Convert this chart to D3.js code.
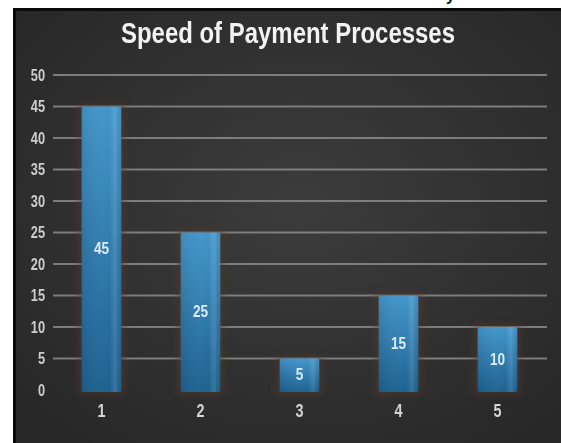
<!DOCTYPE html>
<html>
<head>
<meta charset="utf-8">
<script src="https://cdn.jsdelivr.net/npm/d3@7"></script>
<style>
  html, body { margin: 0; padding: 0; background: #ffffff; }
  svg { display: block; }
</style>
</head>
<body>
<svg id="chart" width="561" height="443"></svg>
<script>
// Chart data
const categories = ["1", "2", "3", "4", "5"];
const values = [45, 25, 5, 15, 10];
const yTicks = [0, 5, 10, 15, 20, 25, 30, 35, 40, 45, 50];
const title = "Speed of Payment Processes";

const W = 561, H = 443;
// Bold sans squeezed horizontally to give a narrow face
const FONT = "'Liberation Sans', Arial, sans-serif";
const NARROW = "scale(0.8,1)";
const svg = d3.select("#chart");
const defs = svg.append("defs");

// Panel background: dark charcoal with a soft lighter centre
const bg = defs.append("radialGradient").attr("id", "panelGrad")
  .attr("cx", "52%").attr("cy", "45%").attr("r", "70%");
bg.append("stop").attr("offset", "0%").attr("stop-color", "#3c3c3c");
bg.append("stop").attr("offset", "100%").attr("stop-color", "#272727");

// Bar fill: lighter blue at the top fading to deep blue
const barGrad = defs.append("linearGradient").attr("id", "barGrad")
  .attr("x1", 0).attr("y1", 0).attr("x2", 0).attr("y2", 1);
barGrad.append("stop").attr("offset", "0%").attr("stop-color", "#4396cb");
barGrad.append("stop").attr("offset", "100%").attr("stop-color", "#1d6190");

const sideGrad = defs.append("linearGradient").attr("id", "sideGrad")
  .attr("x1", 0).attr("y1", 0).attr("x2", 1).attr("y2", 0);
sideGrad.append("stop").attr("offset", "0%").attr("stop-color", "#000").attr("stop-opacity", 0.08);
sideGrad.append("stop").attr("offset", "70%").attr("stop-color", "#fff").attr("stop-opacity", 0.0);
sideGrad.append("stop").attr("offset", "85%").attr("stop-color", "#fff").attr("stop-opacity", 0.12);
sideGrad.append("stop").attr("offset", "100%").attr("stop-color", "#000").attr("stop-opacity", 0.05);

const glow = defs.append("filter").attr("id", "glow")
  .attr("x", "-50%").attr("y", "-50%").attr("width", "200%").attr("height", "200%");
glow.append("feGaussianBlur").attr("stdDeviation", 3);

const soft = defs.append("filter").attr("id", "soft");
soft.append("feGaussianBlur").attr("stdDeviation", 0.4);

// Fragment of a line of text above the frame
svg.append("text")
  .attr("x", 446).attr("y", 1)
  .attr("font-family", FONT).attr("font-size", 16).attr("font-weight", "bold")
  .attr("fill", "#111")
  .text("y");

// Frame
svg.append("rect").attr("x", 13).attr("y", 8).attr("width", W - 13).attr("height", H - 8)
  .attr("fill", "#0a0a0a");
svg.append("rect").attr("x", 16).attr("y", 11).attr("width", W - 16).attr("height", H - 11)
  .attr("fill", "url(#panelGrad)");

// Scales
const x = d3.scaleBand().domain(categories).range([52, 547]).paddingInner(0.6).paddingOuter(0.3);
const y = d3.scaleLinear().domain([0, 50]).range([390, 75]);

// Title
svg.append("text")
  .attr("x", 288).attr("y", 43)
  .attr("text-anchor", "middle")
  .attr("font-family", FONT).attr("font-size", 29).attr("font-weight", "bold")
  .attr("fill", "#f2f2f2")
  .attr("textLength", 334).attr("lengthAdjust", "spacingAndGlyphs")
  .attr("filter", "url(#soft)")
  .text(title);

// Gridlines (no line at zero)
svg.append("g")
  .selectAll("line")
  .data(yTicks.filter(d => d > 0))
  .join("line")
  .attr("x1", 53).attr("x2", 547)
  .attr("y1", d => y(d)).attr("y2", d => y(d))
  .attr("stroke", "#8a8a8a").attr("stroke-width", 1.8).attr("opacity", 0.85);

// Y axis labels
const yAxis = svg.append("g")
  .attr("transform", "translate(45,0)")
  .call(d3.axisLeft(y).tickValues(yTicks).tickSize(0).tickPadding(0));
yAxis.select(".domain").remove();
yAxis.selectAll("text")
  .attr("font-family", FONT).attr("font-size", 16).attr("font-weight", "bold")
  .attr("transform", NARROW)
  .attr("fill", "#cdcdcd").attr("filter", "url(#soft)");

// X axis labels
const xAxis = svg.append("g")
  .attr("transform", "translate(0,404)")
  .call(d3.axisBottom(x).tickSize(0).tickPadding(0));
xAxis.select(".domain").remove();
xAxis.selectAll("text")
  .attr("font-family", FONT).attr("font-size", 18).attr("font-weight", "bold")
  .attr("transform", NARROW)
  .attr("fill", "#d4d4d4").attr("filter", "url(#soft)");

// Bars
const bars = svg.append("g").selectAll("g")
  .data(categories.map((c, i) => ({ c, v: values[i] })))
  .join("g");

bars.append("rect")
  .attr("x", d => x(d.c) - 4).attr("y", d => y(d.v) - 3)
  .attr("width", x.bandwidth() + 8).attr("height", d => y(0) - y(d.v) + 8)
  .attr("fill", "#5a3a2c").attr("opacity", 0.45).attr("filter", "url(#glow)");

bars.append("rect")
  .attr("x", d => x(d.c)).attr("y", d => y(d.v))
  .attr("width", x.bandwidth()).attr("height", d => y(0) - y(d.v) + 2)
  .attr("rx", 2)
  .attr("fill", "url(#barGrad)");

bars.append("rect")
  .attr("x", d => x(d.c)).attr("y", d => y(d.v))
  .attr("width", x.bandwidth()).attr("height", d => y(0) - y(d.v) + 2)
  .attr("rx", 2)
  .attr("fill", "url(#sideGrad)");

// Value labels centred in each bar
bars.append("g")
  .attr("transform", d => `translate(${x(d.c) + x.bandwidth() / 2},${(y(d.v) + y(0)) / 2}) ${NARROW}`)
  .append("text")
  .attr("dy", "0.36em")
  .attr("text-anchor", "middle")
  .attr("font-family", FONT).attr("font-size", 17).attr("font-weight", "bold")
  .attr("fill", "#dcecf6").attr("filter", "url(#soft)")
  .text(d => d.v);
</script>
</body>
</html>
